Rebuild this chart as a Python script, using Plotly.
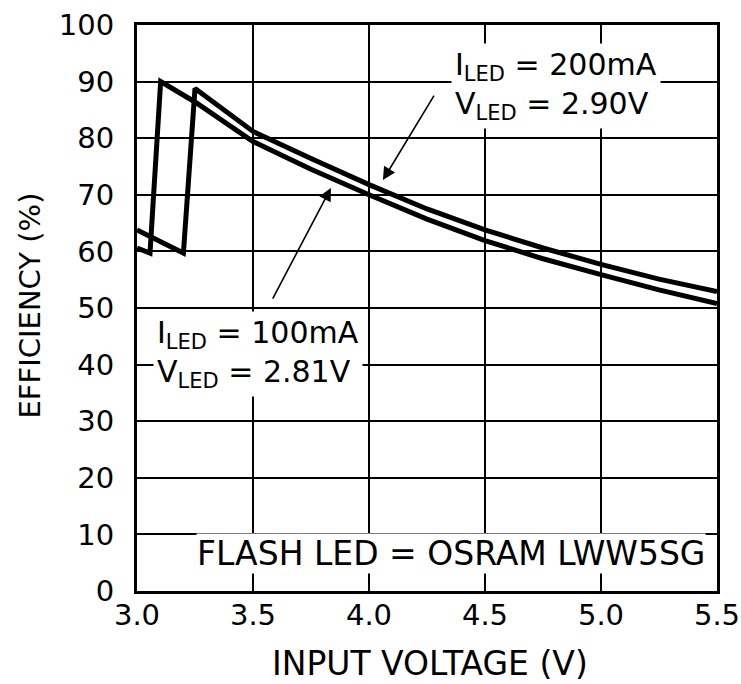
import plotly.graph_objects as go

# Data
v_100 = [3.00, 3.056, 3.102, 3.25, 3.50, 3.75, 4.00, 4.25, 4.50, 4.75, 5.00, 5.25, 5.50]
eff_100 = [60.6, 59.7, 90.0, 86.4, 79.4, 74.5, 70.0, 65.7, 61.9, 58.7, 55.9, 53.2, 50.8]
v_200 = [3.00, 3.20, 3.25, 3.50, 3.75, 4.00, 4.25, 4.50, 4.75, 5.00, 5.25, 5.50]
eff_200 = [63.8, 59.7, 88.8, 81.2, 76.4, 71.8, 67.5, 63.8, 60.6, 57.7, 55.1, 52.9]

x_ticks = [3.0, 3.5, 4.0, 4.5, 5.0, 5.5]
y_ticks = list(range(0, 101, 10))

FONT = "DejaVu Sans"

fig = go.Figure()
fig.add_trace(go.Scatter(x=v_100, y=eff_100, mode="lines",
                         line=dict(color="black", width=5), showlegend=False))
fig.add_trace(go.Scatter(x=v_200, y=eff_200, mode="lines",
                         line=dict(color="black", width=5), showlegend=False))

fig.update_layout(
    width=741, height=684,
    margin=dict(l=137, r=24, t=25, b=93, autoexpand=False),
    paper_bgcolor="white", plot_bgcolor="white",
    font=dict(family=FONT, size=29, color="black"),
    showlegend=False,
)
fig.update_xaxes(range=[3.0, 5.5], tickvals=x_ticks,
                 ticktext=[f"{t:.1f}" for t in x_ticks],
                 showgrid=True, gridcolor="black", gridwidth=2,
                 showline=True, linecolor="black", linewidth=3, mirror=True,
                 ticks="inside", ticklen=12, tickwidth=2, tickcolor="black",
                 ticklabelstandoff=-4, zeroline=False, automargin=False,
                 tickfont=dict(family=FONT, size=29))
fig.update_yaxes(range=[0, 100], tickvals=y_ticks,
                 showgrid=True, gridcolor="black", gridwidth=2,
                 showline=True, linecolor="black", linewidth=3, mirror=True,
                 ticks="", ticklabelstandoff=14, zeroline=False, automargin=False,
                 tickfont=dict(family=FONT, size=29))

# Axis titles
fig.add_annotation(text="INPUT VOLTAGE (V)", xref="paper", yref="paper",
                   x=0.505, y=-0.128, showarrow=False,
                   font=dict(family=FONT, size=33), xanchor="center", yanchor="middle")
fig.add_annotation(text="EFFICIENCY (%)", xref="paper", yref="paper",
                   x=-0.184, y=0.505, showarrow=False, textangle=-90,
                   font=dict(family=FONT, size=29), xanchor="center", yanchor="middle")

# Curve labels
fig.add_annotation(text="I<sub>LED</sub> = 200mA<br>V<sub>LED</sub> = 2.90V",
                   x=4.355, y=89.2, xref="x", yref="y", showarrow=False,
                   xanchor="left", yanchor="middle", align="left",
                   bgcolor="white", borderpad=3,
                   font=dict(family=FONT, size=30))
fig.add_annotation(text="I<sub>LED</sub> = 100mA<br>V<sub>LED</sub> = 2.81V",
                   x=3.07, y=41.8, xref="x", yref="y", showarrow=False,
                   xanchor="left", yanchor="middle", align="left",
                   bgcolor="white", borderpad=3,
                   font=dict(family=FONT, size=30))
fig.add_annotation(text="FLASH LED = OSRAM LWW5SG",
                   x=4.353, y=6.7, xref="x", yref="y", showarrow=False,
                   xanchor="center", yanchor="middle",
                   bgcolor="white", borderpad=0,
                   font=dict(family=FONT, size=33))

# Arrows
fig.add_annotation(text="", x=4.06, y=72.6, xref="x", yref="y",
                   ax=52, ay=-86, showarrow=True, arrowhead=2, arrowsize=1.6,
                   arrowwidth=1.6, arrowcolor="black")
fig.add_annotation(text="", x=3.836, y=71.2, xref="x", yref="y",
                   ax=-59, ay=112, showarrow=True, arrowhead=2, arrowsize=1.6,
                   arrowwidth=1.6, arrowcolor="black")

fig.write_html("out.html")
